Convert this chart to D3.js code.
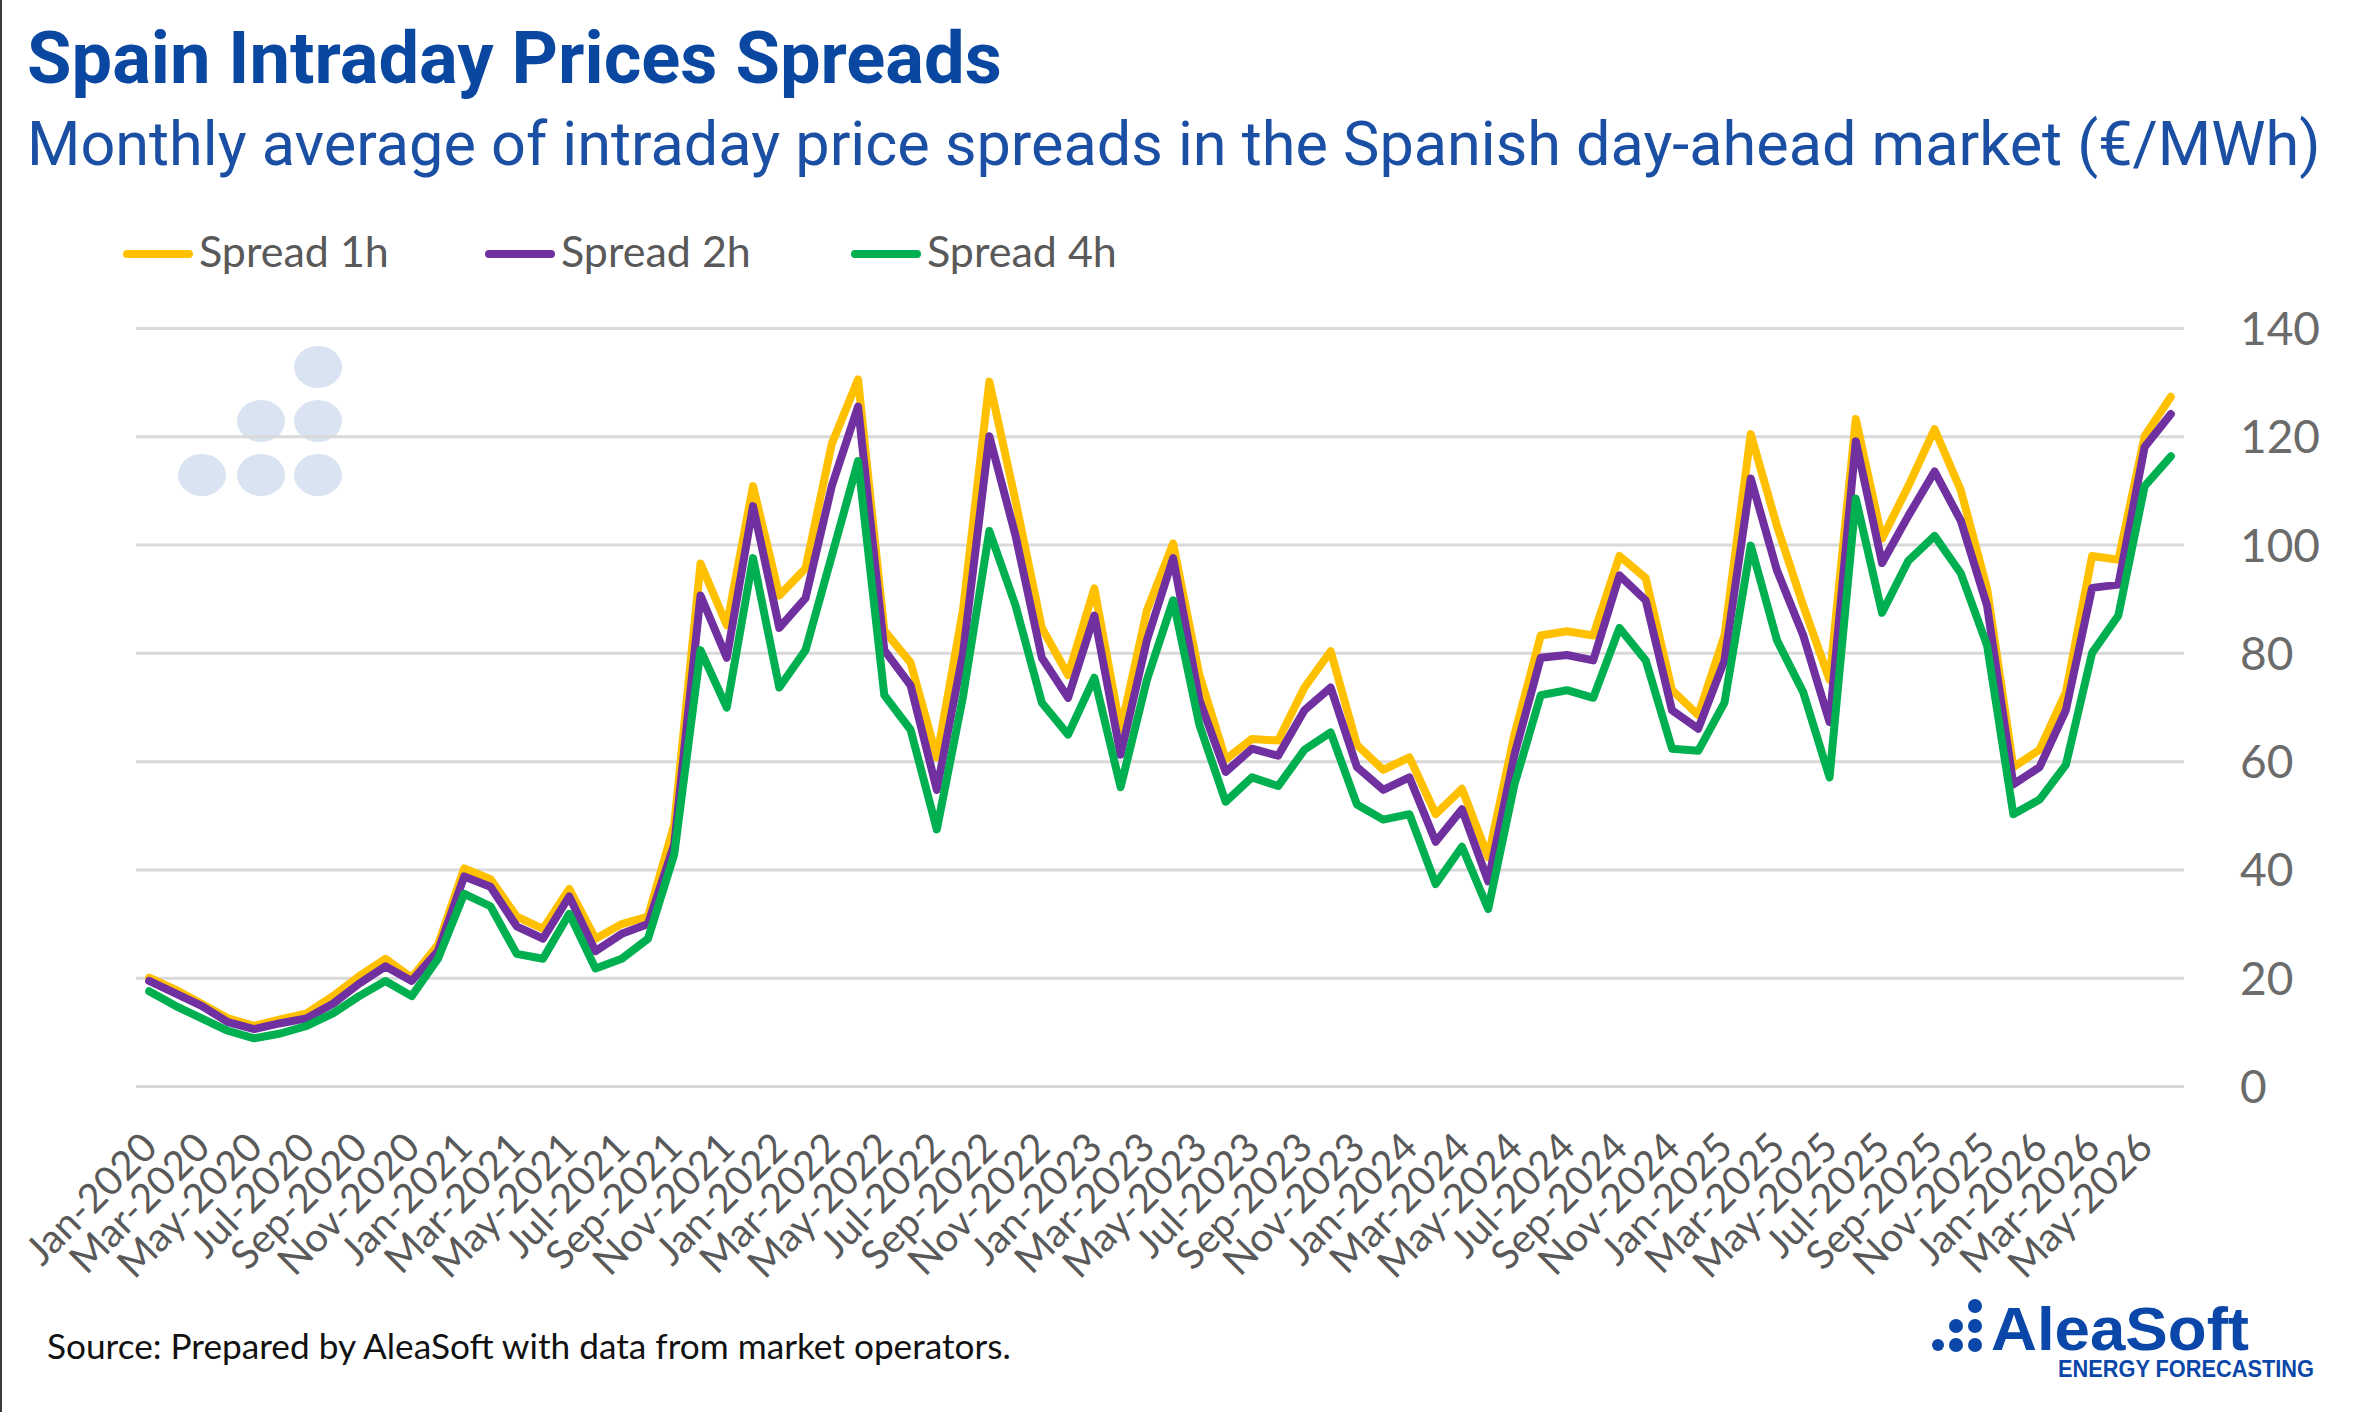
<!DOCTYPE html>
<html lang="en">
<head>
  <meta charset="UTF-8">
  <title>Spain Intraday Prices Spreads</title>
  <style>
    body { margin: 0; background: #fff; }
    svg { display: block; background: #fff; }
  </style>
</head>
<body>
<svg width="2362" height="1412"></svg>
<script src="https://d3js.org/d3.v7.min.js"></script>
<script>
  // Categories (monthly)
  const months = [
    "Jan-2020","Feb-2020","Mar-2020","Apr-2020","May-2020","Jun-2020","Jul-2020","Aug-2020","Sep-2020","Oct-2020","Nov-2020","Dec-2020",
    "Jan-2021","Feb-2021","Mar-2021","Apr-2021","May-2021","Jun-2021","Jul-2021","Aug-2021","Sep-2021","Oct-2021","Nov-2021","Dec-2021",
    "Jan-2022","Feb-2022","Mar-2022","Apr-2022","May-2022","Jun-2022","Jul-2022","Aug-2022","Sep-2022","Oct-2022","Nov-2022","Dec-2022",
    "Jan-2023","Feb-2023","Mar-2023","Apr-2023","May-2023","Jun-2023","Jul-2023","Aug-2023","Sep-2023","Oct-2023","Nov-2023","Dec-2023",
    "Jan-2024","Feb-2024","Mar-2024","Apr-2024","May-2024","Jun-2024","Jul-2024","Aug-2024","Sep-2024","Oct-2024","Nov-2024","Dec-2024",
    "Jan-2025","Feb-2025","Mar-2025","Apr-2025","May-2025","Jun-2025","Jul-2025","Aug-2025","Sep-2025","Oct-2025","Nov-2025","Dec-2025",
    "Jan-2026","Feb-2026","Mar-2026","Apr-2026","May-2026","Jun-2026"
  ];

  // Series values (€/MWh)
  const spread1h = [
    20.0, 17.8, 15.2, 12.5, 11.1, 12.3, 13.4, 16.6, 20.3, 23.5, 20.0, 26.1,
    40.2, 38.2, 31.3, 29.0, 36.4, 27.2, 29.9, 31.3, 48.3, 96.5, 85.1, 110.8,
    90.6, 95.6, 118.6, 130.5, 84.1, 78.2, 60.7, 88.0, 130.1, 108.0, 84.6, 75.9,
    91.9, 65.8, 87.8, 100.2, 75.9, 60.3, 64.1, 63.8, 73.6, 80.3, 63.0, 58.4,
    60.7, 50.2, 54.9, 42.3, 64.9, 83.2, 84.0, 83.2, 97.9, 93.8, 73.1, 68.5,
    83.2, 120.4, 103.4, 88.7, 75.0, 123.2, 101.1, 110.8, 121.3, 110.0, 91.9, 58.9,
    62.1, 72.7, 97.9, 97.2, 120.0, 127.3
  ];
  const spread2h = [
    19.4, 17.1, 14.8, 11.8, 10.5, 11.6, 12.5, 15.2, 18.9, 22.1, 19.4, 24.9,
    38.7, 36.8, 29.5, 27.2, 35.0, 24.9, 28.1, 29.9, 44.6, 90.6, 79.1, 107.1,
    84.6, 90.1, 110.8, 125.5, 80.5, 74.0, 54.7, 80.0, 120.0, 101.6, 79.1, 71.7,
    86.9, 61.2, 82.3, 97.5, 71.3, 58.0, 62.3, 61.0, 69.4, 73.6, 58.9, 54.7,
    57.0, 45.1, 51.1, 37.8, 61.2, 79.1, 79.6, 78.6, 94.3, 89.7, 69.4, 66.0,
    78.6, 112.2, 95.2, 83.2, 67.2, 119.1, 96.6, 105.3, 113.5, 104.4, 88.7, 55.7,
    58.9, 69.4, 92.0, 92.6, 118.0, 124.1
  ];
  const spread4h = [
    17.5, 14.8, 12.5, 10.2, 8.8, 9.7, 11.1, 13.4, 16.6, 19.4, 16.6, 23.5,
    35.5, 33.2, 24.4, 23.5, 31.8, 21.7, 23.5, 27.2, 42.8, 80.5, 69.9, 97.5,
    73.6, 80.5, 97.9, 115.4, 72.2, 65.8, 47.4, 72.0, 102.5, 88.7, 70.8, 64.9,
    75.4, 55.2, 75.0, 89.7, 66.7, 52.5, 57.0, 55.4, 62.1, 65.3, 52.0, 49.2,
    50.2, 37.3, 44.2, 32.7, 55.7, 72.2, 73.1, 71.7, 84.6, 78.6, 62.3, 61.9,
    70.8, 99.8, 82.3, 72.7, 57.0, 108.5, 87.4, 97.0, 101.6, 94.7, 81.4, 50.2,
    52.9, 59.3, 80.0, 86.9, 110.8, 116.3
  ];

  const seriesNames = ["Spread 1h", "Spread 2h", "Spread 4h"];
  const yTicks = [0, 20, 40, 60, 80, 100, 120, 140];
  const xTickLabels = months.filter((d, i) => i % 2 === 0);

  // Layout
  const svgWidth = 2362, svgHeight = 1412;
  const plot = { left: 136, right: 2184, top: 328, bottom: 1086 };
  const colors = ["#FFC000", "#7030A0", "#00B050"];
  const blue = "#0a47a1";
  const svg = d3.select('svg');

  svg.append('rect').attr('width', svgWidth).attr('height', svgHeight).attr('fill', '#fff');
  // thin frame line at the left edge
  svg.append('line')
    .attr('x1', 1).attr('x2', 1).attr('y1', 0).attr('y2', svgHeight)
    .attr('stroke', '#3a3a3a').attr('stroke-width', 2);

  // fit a text element's font-size to a given width
  function fitWidth(sel, target) {
    const w = sel.node().getComputedTextLength();
    const fs = parseFloat(sel.attr('font-size'));
    sel.attr('font-size', fs * target / w);
  }

  // Titles
  const title = svg.append('text')
    .attr('x', 27).attr('y', 83)
    .attr('font-family', 'Roboto, sans-serif')
    .attr('font-weight', 700)
    .attr('font-size', 70)
    .attr('fill', blue)
    .text('Spain Intraday Prices Spreads');
  fitWidth(title, 975);

  const subtitle = svg.append('text')
    .attr('x', 27).attr('y', 165)
    .attr('font-family', 'Roboto, sans-serif')
    .attr('font-size', 60)
    .attr('fill', '#1a4fa3')
    .text('Monthly average of intraday price spreads in the Spanish day-ahead market (€/MWh)');
  fitWidth(subtitle, 2294);

  // Scales
  const x = d3.scalePoint().domain(months).range([plot.left, plot.right]).padding(0.5);
  const y = d3.scaleLinear().domain([0, 140]).range([plot.bottom, plot.top]);

  // Watermark dots
  const wmDots = [[202, 475], [261, 475], [318, 475], [261, 421], [318, 421], [318, 367]];
  svg.append('g').selectAll('ellipse')
    .data(wmDots)
    .enter().append('ellipse')
      .attr('cx', d => d[0]).attr('cy', d => d[1])
      .attr('rx', 24).attr('ry', 21)
      .attr('fill', '#dae3f1');

  // Gridlines
  const grid = svg.append('g')
    .attr('transform', `translate(${plot.left},0)`)
    .call(d3.axisLeft(y).tickValues(yTicks).tickSize(-(plot.right - plot.left)).tickFormat(''));
  grid.select('.domain').remove();
  grid.selectAll('line').attr('stroke', '#d9d9d9').attr('stroke-width', 3);

  // Y axis labels (right side)
  const yAxis = svg.append('g')
    .attr('transform', 'translate(2240,0)')
    .call(d3.axisRight(y).tickValues(yTicks).tickSize(0).tickPadding(0));
  yAxis.select('.domain').remove();
  yAxis.selectAll('text')
    .attr('font-family', 'Lato, sans-serif')
    .attr('font-size', 46)
    .attr('fill', '#6b6b6b')
    .attr('dy', '0.36em');

  // X axis labels, rotated
  const xAxis = svg.append('g')
    .attr('transform', `translate(0,${plot.bottom})`)
    .call(d3.axisBottom(x).tickValues(xTickLabels).tickSize(0));
  xAxis.select('.domain').remove();
  xAxis.selectAll('text')
    .attr('font-family', 'Lato, sans-serif')
    .attr('font-size', 40)
    .attr('fill', '#595959')
    .attr('text-anchor', 'end')
    .attr('x', 0).attr('y', 0)
    .attr('dy', '0.35em')
    .attr('transform', 'translate(0,54) rotate(-45)');

  // Lines
  const line = d3.line()
    .x((d, i) => x(months[i]))
    .y(d => y(d));

  [spread1h, spread2h, spread4h].forEach((vals, k) => {
    svg.append('path')
      .datum(vals)
      .attr('d', line)
      .attr('fill', 'none')
      .attr('stroke', colors[k])
      .attr('stroke-width', 8)
      .attr('stroke-linejoin', 'round')
      .attr('stroke-linecap', 'round');
  });

  // Legend
  const legendX = [123, 485, 851];
  const legend = svg.append('g');
  seriesNames.forEach((name, k) => {
    legend.append('line')
      .attr('x1', legendX[k] + 4).attr('x2', legendX[k] + 66)
      .attr('y1', 254).attr('y2', 254)
      .attr('stroke', colors[k])
      .attr('stroke-width', 8)
      .attr('stroke-linecap', 'round');
    legend.append('text')
      .attr('x', legendX[k] + 76).attr('y', 267)
      .attr('font-family', 'Lato, sans-serif')
      .attr('font-size', 43)
      .attr('fill', '#595959')
      .text(name);
  });

  // Source
  const source = svg.append('text')
    .attr('x', 47).attr('y', 1359)
    .attr('font-family', 'Lato, sans-serif')
    .attr('font-size', 32)
    .attr('fill', '#111')
    .text('Source: Prepared by AleaSoft with data from market operators.');
  fitWidth(source, 964);

  // AleaSoft logo
  const logoBlue = '#0a47a8';
  const logoDots = [[1938, 1345, 6], [1956, 1345, 7], [1975, 1345, 7], [1956, 1326, 7], [1975, 1326, 7], [1975, 1306, 7]];
  svg.append('g').selectAll('circle')
    .data(logoDots)
    .enter().append('circle')
      .attr('cx', d => d[0]).attr('cy', d => d[1]).attr('r', d => d[2])
      .attr('fill', logoBlue);
  svg.append('text')
    .attr('x', 1991).attr('y', 1350)
    .attr('font-family', "'Liberation Sans', Arial, sans-serif")
    .attr('font-weight', 700)
    .attr('font-size', 62)
    .attr('textLength', 258)
    .attr('lengthAdjust', 'spacingAndGlyphs')
    .attr('fill', logoBlue)
    .text('AleaSoft');
  svg.append('text')
    .attr('x', 2058).attr('y', 1377)
    .attr('font-family', "'Liberation Sans', Arial, sans-serif")
    .attr('font-weight', 700)
    .attr('font-size', 24)
    .attr('textLength', 256)
    .attr('lengthAdjust', 'spacingAndGlyphs')
    .attr('fill', logoBlue)
    .text('ENERGY FORECASTING');
</script>
</body>
</html>
